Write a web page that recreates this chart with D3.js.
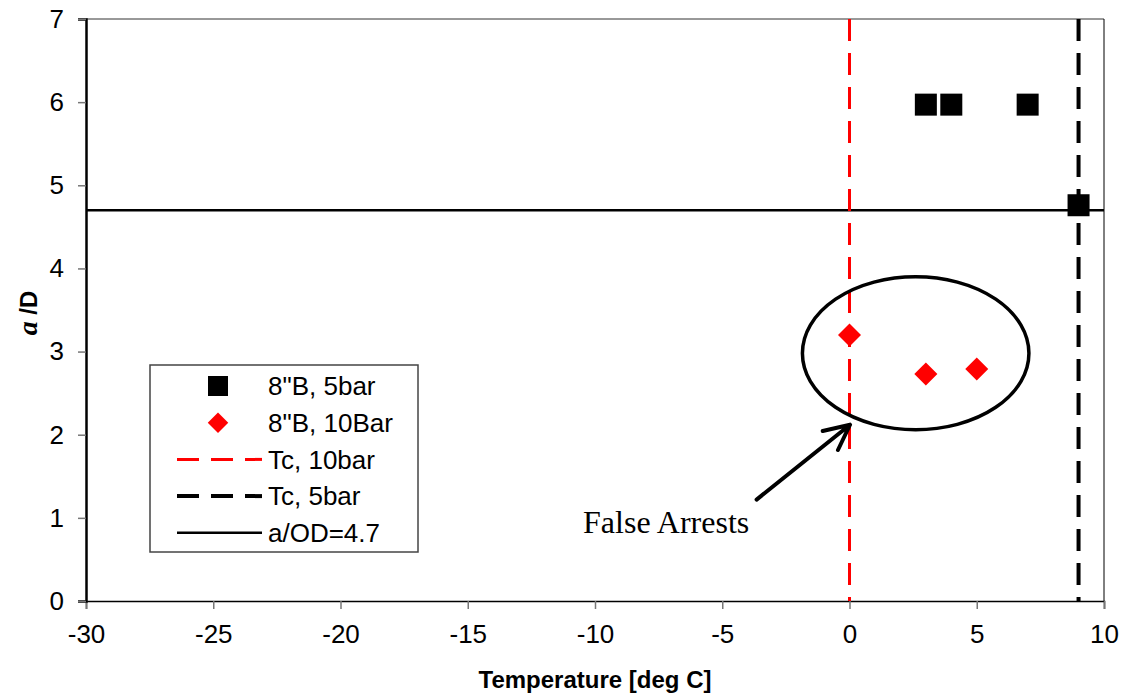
<!DOCTYPE html>
<html>
<head>
<meta charset="utf-8">
<script src="https://cdn.jsdelivr.net/npm/d3@7"></script>
<style>
  body { margin: 0; background: #fff; }
  svg { display: block; }
</style>
</head>
<body>
<script>
// series
var bar5Temp = [3, 4, 7, 9];
var bar5Ratio = [5.97, 5.97, 5.97, 4.76];
var bar10Temp = [0, 3, 5];
var bar10Ratio = [3.2, 2.73, 2.79];
var tc10 = 0;      // Tc, 10bar
var tc5 = 9;       // Tc, 5bar
var aOD = 4.7;     // a/OD limit
var xTicks = [-30, -25, -20, -15, -10, -5, 0, 5, 10];
var yTicks = [0, 1, 2, 3, 4, 5, 6, 7];
var legendLabels = ["8\"B, 5bar", "8\"B, 10Bar", "Tc, 10bar", "Tc, 5bar", "a/OD=4.7"];
// annotation (data units)
var ellipseCenter = [2.6, 2.98];
var ellipseRadius = [4.45, 0.92];
var arrowFrom = [-3.65, 1.22];
var arrowTo = [0.02, 2.12];
var noteAt = [-10.47, 0.82];

var width = 1124, height = 696;
var margin = {left: 86, right: 20, top: 19, bottom: 95};

var x = d3.scaleLinear().domain([-30, 10]).range([margin.left, width - margin.right]);
var y = d3.scaleLinear().domain([0, 7]).range([height - margin.bottom, margin.top]);

var svg = d3.select("body").append("svg").attr("width", width).attr("height", height);

// frame: thin top / right
svg.append("line").attr("x1", x(-30)).attr("x2", x(10)).attr("y1", y(7)).attr("y2", y(7))
  .attr("stroke", "#333").attr("stroke-width", 1);
svg.append("line").attr("x1", x(10)).attr("x2", x(10)).attr("y1", y(7)).attr("y2", y(0))
  .attr("stroke", "#000").attr("stroke-width", 1);

// axes
var xAxis = d3.axisBottom(x).tickValues(xTicks).tickSize(8).tickPadding(16).tickFormat(d3.format("d"));
var yAxis = d3.axisLeft(y).tickValues(yTicks).tickSize(8).tickPadding(14).tickFormat(d3.format("d"));

var gx = svg.append("g").attr("transform", "translate(0," + y(0) + ")").call(xAxis);
var gy = svg.append("g").attr("transform", "translate(" + x(-30) + ",0)").call(yAxis);

gx.select(".domain").attr("stroke", "#000").attr("stroke-width", 1.5);
gy.select(".domain").attr("stroke", "#000").attr("stroke-width", 2.5);
svg.selectAll(".tick line").attr("stroke", "#777").attr("stroke-width", 1.5);
svg.selectAll(".tick text").attr("font-family", "Arial, 'Liberation Sans', sans-serif")
  .attr("font-size", 26).attr("fill", "#000");
gx.selectAll(".tick text").text(function(d) { return d; });

// axis titles
svg.append("text")
  .attr("x", 595).attr("y", 688)
  .attr("text-anchor", "middle")
  .attr("font-family", "Arial, 'Liberation Sans', sans-serif")
  .attr("font-weight", "bold").attr("font-size", 24)
  .text("Temperature [deg C]");

var yt = svg.append("text")
  .attr("transform", "translate(37,313) rotate(-90)")
  .attr("text-anchor", "middle")
  .attr("font-weight", "bold").attr("font-size", 24);
yt.append("tspan").attr("font-family", "'Liberation Serif', 'Times New Roman', serif")
  .attr("font-style", "italic").attr("font-size", 28).text("a");
yt.append("tspan").attr("font-family", "Arial, 'Liberation Sans', sans-serif").text(" /D");

// reference lines
svg.append("line")
  .attr("x1", x(-30)).attr("x2", x(10)).attr("y1", y(aOD)).attr("y2", y(aOD))
  .attr("stroke", "#000").attr("stroke-width", 2.5);
svg.append("line")
  .attr("x1", x(tc10)).attr("x2", x(tc10)).attr("y1", y(7)).attr("y2", y(0))
  .attr("stroke", "#ff0000").attr("stroke-width", 3).attr("stroke-dasharray", "22,12");
svg.append("line")
  .attr("x1", x(tc5)).attr("x2", x(tc5)).attr("y1", y(7)).attr("y2", y(0))
  .attr("stroke", "#000").attr("stroke-width", 4).attr("stroke-dasharray", "22,12");

// 5 bar squares
svg.append("g").selectAll("rect")
  .data(bar5Temp).enter().append("rect")
  .attr("x", function(d) { return x(d) - 11; })
  .attr("y", function(d, i) { return y(bar5Ratio[i]) - 11; })
  .attr("width", 22).attr("height", 22)
  .attr("fill", "#000");

// 10 bar diamonds
var diamond = d3.symbol().type(d3.symbolSquare).size(265);
svg.append("g").selectAll("path")
  .data(bar10Temp).enter().append("path")
  .attr("d", diamond)
  .attr("transform", function(d, i) { return "translate(" + x(d) + "," + y(bar10Ratio[i]) + ") rotate(45)"; })
  .attr("fill", "#ff0000");

// annotation
svg.append("ellipse")
  .attr("cx", x(ellipseCenter[0])).attr("cy", y(ellipseCenter[1]))
  .attr("rx", x(ellipseCenter[0] + ellipseRadius[0]) - x(ellipseCenter[0]))
  .attr("ry", y(ellipseCenter[1] - ellipseRadius[1]) - y(ellipseCenter[1]))
  .attr("fill", "none").attr("stroke", "#000").attr("stroke-width", 3.5);

var ax0 = x(arrowFrom[0]), ay0 = y(arrowFrom[1]), ax1 = x(arrowTo[0]), ay1 = y(arrowTo[1]);
var ang = Math.atan2(ay1 - ay0, ax1 - ax0), head = 28, spread = 0.45;
svg.append("path")
  .attr("d", "M" + ax0 + "," + ay0 + "L" + ax1 + "," + ay1 +
    "M" + (ax1 - head * Math.cos(ang - spread)) + "," + (ay1 - head * Math.sin(ang - spread)) +
    "L" + ax1 + "," + ay1 +
    "L" + (ax1 - head * Math.cos(ang + spread)) + "," + (ay1 - head * Math.sin(ang + spread)))
  .attr("fill", "none").attr("stroke", "#000").attr("stroke-width", 4)
  .attr("stroke-linecap", "round").attr("stroke-linejoin", "round");

svg.append("text")
  .attr("x", x(noteAt[0])).attr("y", y(noteAt[1]))
  .attr("font-family", "'Liberation Serif', 'Times New Roman', serif")
  .attr("font-size", 32)
  .text("False Arrests");

// legend
var legend = svg.append("g").attr("transform", "translate(150,365)");
legend.append("rect").attr("width", 268).attr("height", 187)
  .attr("fill", "#fff").attr("stroke", "#444").attr("stroke-width", 1.5);
var rowY = function(i) { return 21 + i * 36.7; };
var rows = legend.selectAll("g.row").data(legendLabels).enter().append("g")
  .attr("class", "row").attr("transform", function(d, i) { return "translate(0," + rowY(i) + ")"; });
rows.append("text")
  .attr("x", 118).attr("dy", "0.36em")
  .attr("font-family", "Arial, 'Liberation Sans', sans-serif").attr("font-size", 26)
  .text(function(d) { return d; });
rows.filter(function(d, i) { return i === 0; }).append("rect")
  .attr("x", 58).attr("y", -10).attr("width", 20).attr("height", 20).attr("fill", "#000");
rows.filter(function(d, i) { return i === 1; }).append("path")
  .attr("d", d3.symbol().type(d3.symbolSquare).size(210))
  .attr("transform", "translate(68,0) rotate(45)").attr("fill", "#ff0000");
rows.filter(function(d, i) { return i >= 2; }).append("line")
  .attr("x1", 27).attr("x2", 112).attr("y1", 0).attr("y2", 0)
  .attr("stroke", function(d, i) { return i === 0 ? "#ff0000" : "#000"; })
  .attr("stroke-width", function(d, i) { return i === 0 ? 3 : (i === 1 ? 4 : 2.5); })
  .attr("stroke-dasharray", function(d, i) { return i === 2 ? null : "22,12"; });
</script>
</body>
</html>
